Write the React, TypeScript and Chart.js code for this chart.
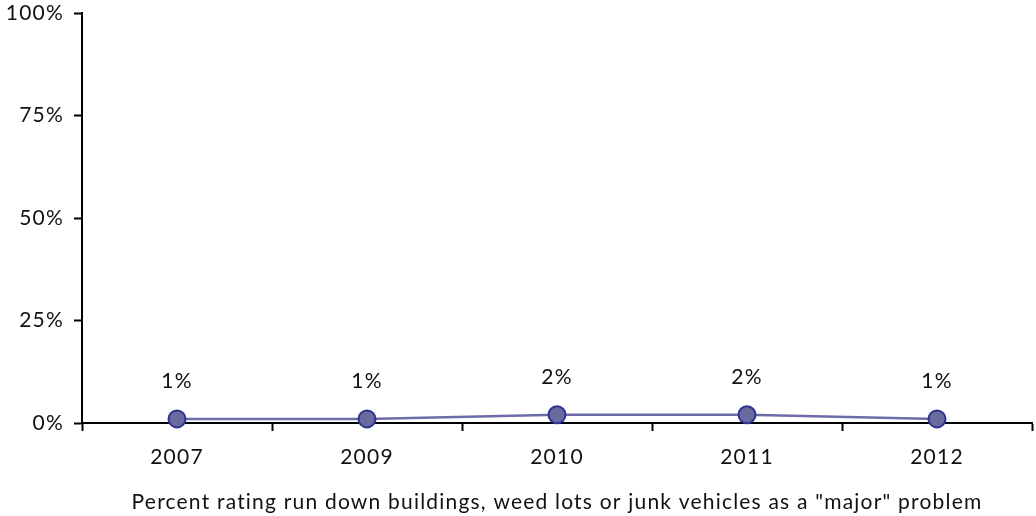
import React, { useEffect, useRef } from "react";
import { Chart, registerables } from "chart.js";

Chart.register(...registerables);

const years = ["2007", "2009", "2010", "2011", "2012"];
const values = [1, 1, 2, 2, 1];
const valueLabels = ["1%", "1%", "2%", "2%", "1%"];
const yTicks = [0, 25, 50, 75, 100];
const axisTitle = 'Percent rating run down buildings, weed lots or junk vehicles as a "major" problem';

const FONT = "Lato";
const FS = 21;
const SPACING = "1.2px";

const spacingPlugin = {
  id: "letterSpacing",
  beforeDraw(chart: any) {
    chart.ctx.letterSpacing = SPACING;
  },
};

const labelPlugin = {
  id: "pointLabels",
  afterDatasetsDraw(chart: any) {
    const ctx = chart.ctx;
    const meta = chart.getDatasetMeta(0);
    ctx.save();
    ctx.letterSpacing = SPACING;
    ctx.font = `${FS}px ${FONT}`;
    ctx.fillStyle = "#111";
    ctx.textAlign = "center";
    ctx.textBaseline = "middle";
    meta.data.forEach((pt: any, i: number) => {
      ctx.fillText(valueLabels[i], pt.x, pt.y - 38);
    });
    ctx.restore();
  },
};

export default function App() {
  const ref = useRef<HTMLCanvasElement>(null);
  useEffect(() => {
    if (!ref.current) return;
    const chart = new Chart(ref.current, {
      type: "line",
      data: {
        labels: years,
        datasets: [
          {
            data: values,
            borderColor: "#6c6ca8",
            borderWidth: 2.5,
            pointRadius: 8.5,
            pointBorderWidth: 2,
            pointBackgroundColor: "#6a6a9e",
            pointBorderColor: "#2e3192",
            tension: 0,
            clip: false as any,
          },
        ],
      },
      options: {
        animation: false,
        responsive: false,
        maintainAspectRatio: false,
        layout: { autoPadding: false, padding: { top: 13, right: 4, left: 0, bottom: 0 } },
        plugins: { legend: { display: false }, tooltip: { enabled: false } },
        scales: {
          x: {
            type: "category",
            offset: true,
            grid: {
              offset: true,
              drawOnChartArea: false,
              drawTicks: true,
              tickLength: 8,
              tickWidth: 2,
              tickColor: "#000",
            },
            border: { display: true, color: "#000", width: 2 },
            ticks: {
              color: "#111",
              font: { family: FONT, size: FS },
              padding: 14,
              maxRotation: 0,
            },
            title: {
              display: true,
              text: axisTitle,
              color: "#111",
              font: { family: FONT, size: FS },
              padding: { top: 0, bottom: 1 },
            },
            afterFit: (s: any) => {
              s.height = 93;
              s.paddingLeft = 0;
              s.paddingRight = 0;
            },
          },
          y: {
            min: 0,
            max: 100,
            afterBuildTicks: (s: any) => {
              s.ticks = yTicks.map((v) => ({ value: v }));
            },
            grid: {
              drawOnChartArea: false,
              drawTicks: true,
              tickLength: 8,
              tickWidth: 2,
              tickColor: "#000",
            },
            border: { display: true, color: "#000", width: 2 },
            ticks: {
              color: "#111",
              font: { family: FONT, size: FS },
              padding: 10,
              callback: (v: any) => `${v}%`,
            },
            afterFit: (s: any) => {
              s.width = 82;
              s.paddingTop = 0;
              s.paddingBottom = 0;
            },
          },
        },
      },
      plugins: [spacingPlugin, labelPlugin],
    });
    return () => chart.destroy();
  }, []);
  return (
    <div style={{ position: "absolute", left: 0, top: 0, width: 1036, height: 516, background: "#fff" }}>
      <canvas ref={ref} width={1036} height={516} style={{ display: "block", width: 1036, height: 516 }} />
    </div>
  );
}
